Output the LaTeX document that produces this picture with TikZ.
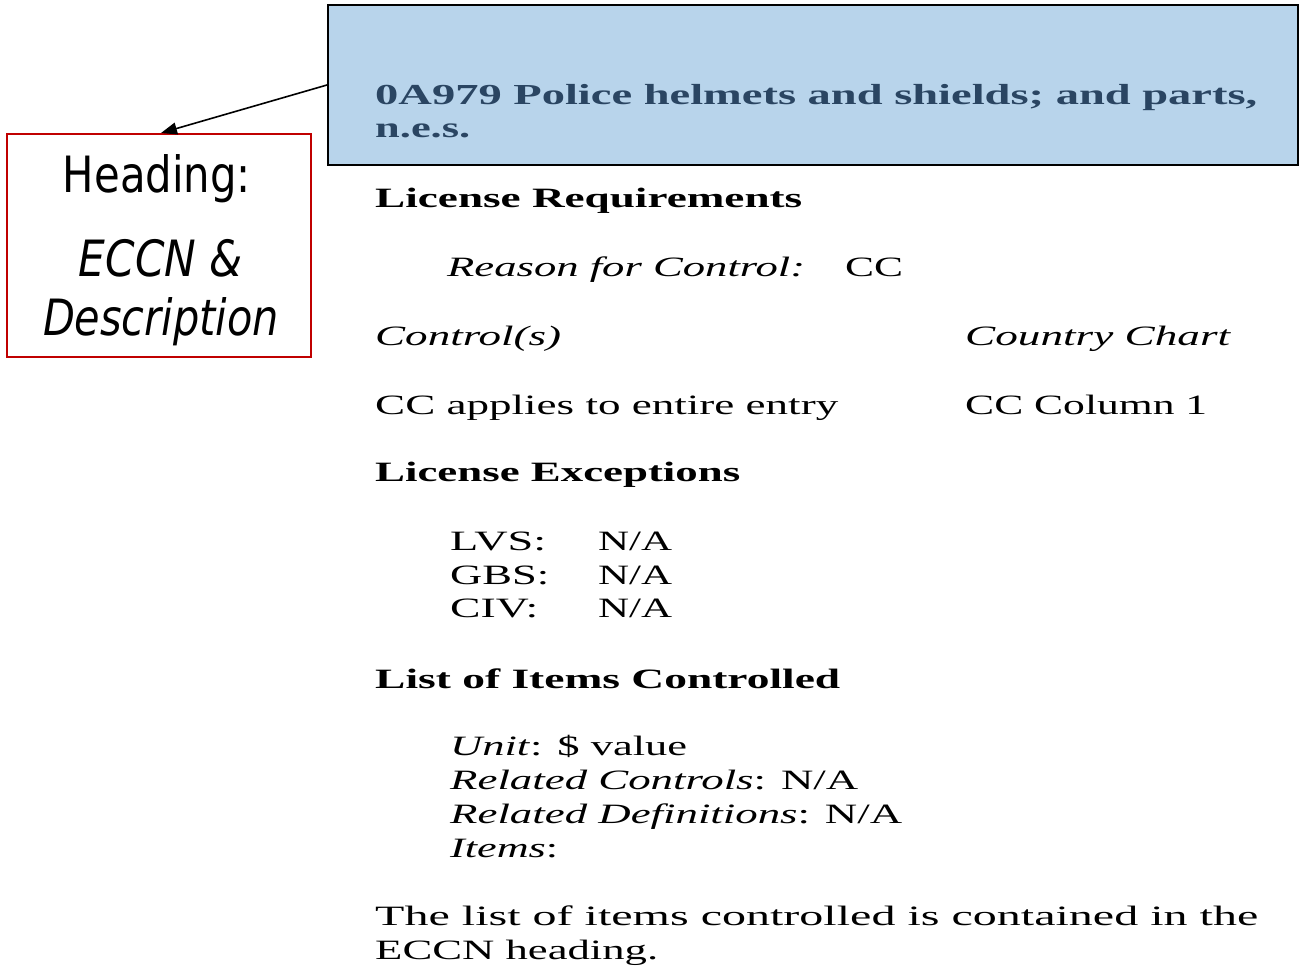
\documentclass[tikz,border=0pt]{standalone}
\usepackage{fontspec}
\setmainfont{Liberation Serif}
\newfontfamily\callfont{DejaVu Sans}
\usepackage{graphicx}
\usetikzlibrary{arrows.meta}
\definecolor{hdrblue}{HTML}{B8D4EB}
\definecolor{hdrtext}{HTML}{2A4562}
\definecolor{callred}{HTML}{C00000}
\newcommand{\fitw}[2]{\resizebox{#1}{\height}{#2}}
\tikzset{
  txt/.style={anchor=base west, inner sep=0pt, font=\fontsize{28}{28}\selectfont},
  htxt/.style={txt, text=hdrtext, font=\fontsize{29}{29}\selectfont\bfseries},
  ctxt/.style={anchor=base, inner sep=0pt, font=\callfont\fontsize{50}{50}\selectfont},
  hdrbox/.style={draw=black, line width=2pt, fill=hdrblue, anchor=north west, inner sep=0pt},
  callbox/.style={draw=callred, line width=1.8pt, anchor=north west, inner sep=0pt},
  callarrow/.style={line width=1.6pt, -{Triangle[length=16pt,width=12pt]}}
}
\begin{document}
\begin{tikzpicture}[x=1pt,y=-1pt]
\useasboundingbox (0,0) rectangle (1299,966);
% header box
\node[hdrbox, minimum width=970pt, minimum height=160pt] (hdr) at (327,4) {};
\node[htxt] (t1) at (375,105) {\fitw{882pt}{0A979 Police helmets and shields; and parts,}};
\node[htxt] (t2) at (375,137) {\fitw{95pt}{n.e.s.}};
% callout
\node[callbox, minimum width=304pt, minimum height=223pt] (call) at (6,133) {};
\node[ctxt] (c1) at (157,192) {\fitw{188pt}{Heading:}};
\node[ctxt] (c2) at (161,276) {\fitw{164pt}{\itshape ECCN \&}};
\node[ctxt] (c3) at (161,335) {\fitw{236pt}{\itshape Description}};
\coordinate (astart) at (327,85);
\draw[callarrow] (astart) -- (call.north -| 161,0);
% body
\node[txt] (lr) at (375,207) {\fitw{427pt}{\bfseries License Requirements}};
\node[txt] (rfc) at (447,276) {\fitw{358pt}{\itshape Reason for Control:}};
\node[txt] (rfcv) at (845,276) {\fitw{58pt}{CC}};
\node[txt] (ctl) at (375,345) {\fitw{186pt}{\itshape Control(s)}};
\node[txt] (cch) at (965,345) {\fitw{265pt}{\itshape Country Chart}};
\node[txt] (cca) at (375,414) {\fitw{463pt}{CC applies to entire entry}};
\node[txt] (ccc) at (965,414) {\fitw{242pt}{CC Column 1}};
\node[txt] (le) at (375,481) {\fitw{365pt}{\bfseries License Exceptions}};
\node[txt] (lvs) at (450,550) {\fitw{96pt}{LVS:}};
\node[txt] (lvsv) at (598,550) {\fitw{74pt}{N/A}};
\node[txt] (gbs) at (450,584) {\fitw{99pt}{GBS:}};
\node[txt] (gbsv) at (598,584) {\fitw{74pt}{N/A}};
\node[txt] (civ) at (450,617) {\fitw{88pt}{CIV:}};
\node[txt] (civv) at (598,617) {\fitw{74pt}{N/A}};
\node[txt] (lic) at (375,688) {\fitw{465pt}{\bfseries List of Items Controlled}};
\node[txt] (unit) at (450,755) {\fitw{237pt}{\textit{Unit}: \$ value}};
\node[txt] (rc) at (450,789) {\fitw{408pt}{\textit{Related Controls}: N/A}};
\node[txt] (rd) at (450,823) {\fitw{452pt}{\textit{Related Definitions}: N/A}};
\node[txt] (it) at (450,857) {\fitw{108pt}{\textit{Items}:}};
\node[txt] (p1) at (375,925) {\fitw{883pt}{The list of items controlled is contained in the}};
\node[txt] (p2) at (375,959) {\fitw{283pt}{ECCN heading.}};
\end{tikzpicture}
\end{document}
